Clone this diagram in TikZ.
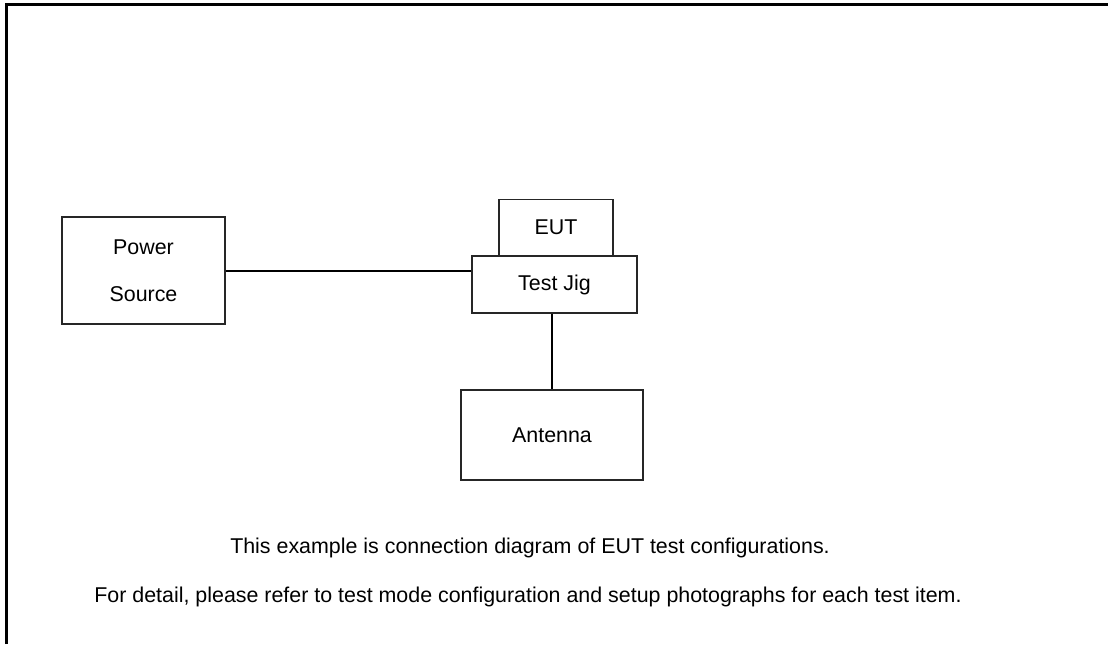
\documentclass[tikz,border=0pt]{standalone}
\usepackage{fontspec}
\setmainfont{Liberation Sans}

\begin{document}
\begin{tikzpicture}[x=0.5pt,y=-0.5pt,font=\fontsize{10.7}{12.8}\selectfont,
	unit/.style={draw=black!85,line width=0.75pt,inner sep=0pt,align=center},
	cable/.style={draw=black,line width=1pt}]
	
	% canvas and frame (only top and left edge are visible)
	\useasboundingbox (0,0) rectangle (1108,644);
	\draw[line width=1.5pt] (6,644) -- (6,4) -- (1108,4);
	
	%----------------------------
	% Units
	%----------------------------
	\node[unit,minimum width=81.5pt,minimum height=53.5pt] (power) at (143.5,270.5)
	{Power\\[10.7pt]Source};
	
	\node[unit,minimum width=82.5pt,minimum height=28.5pt] (jig) at (554.5,284.5) {Test Jig};
	\node[unit,minimum width=57pt,minimum height=28pt,anchor=south] (eut) at (556,256) {EUT};
	
	\node[unit,minimum width=91pt,minimum height=45pt] (antenna) at (552,435) {Antenna};
	
	%----------------------------
	% Cables
	%----------------------------
	\draw[cable] (power.east) -- (power.east -| jig.west);
	\draw[cable] (antenna.north |- jig.south) -- (antenna.north);
	
	%----------------------------
	% Notes
	%----------------------------
	\node (note1) at (530,548) {This example is connection diagram of EUT test configurations.};
	\node (note2) at (528,597) {For detail, please refer to test mode configuration and setup photographs for each test item.};
	
\end{tikzpicture}
\end{document}
